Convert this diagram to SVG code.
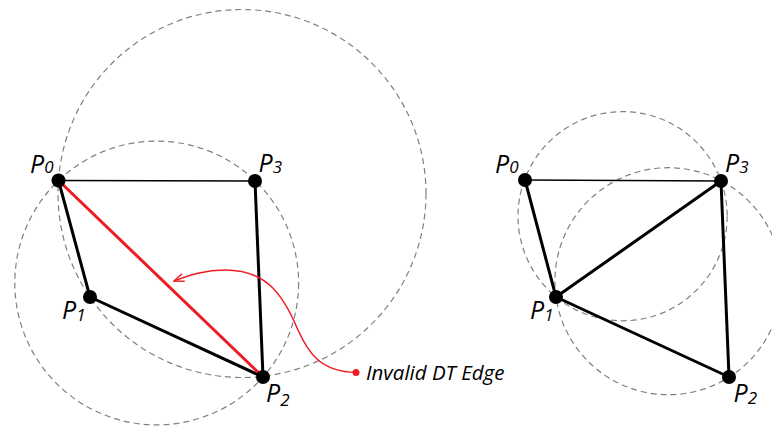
<svg xmlns="http://www.w3.org/2000/svg" width="772" height="426" viewBox="0 0 772 426">
  <style>
    .circ { fill: none; stroke: #808080; stroke-width: 1.2; stroke-dasharray: 6 4; }
    .thin { stroke: #000; stroke-width: 1.6; fill: none; }
    .thick { stroke: #000; stroke-width: 3; fill: none; stroke-linecap: round; }
    .red { stroke: #ed1c24; stroke-width: 3; fill: none; }
    .dot { fill: #000; }
    .lbl { font-family: "Open Sans", "Liberation Sans", sans-serif; font-style: italic; font-size: 25px; fill: #000; }
    .sub { font-size: 17px; }
    .note { font-family: "Open Sans", "Liberation Sans", sans-serif; font-style: italic; font-size: 20.5px; fill: #000; }
  </style>
  <defs>
    <marker id="arr" viewBox="0 0 12 10" refX="11" refY="5" markerWidth="12" markerHeight="10" markerUnits="userSpaceOnUse" orient="auto">
      <path d="M1,1 L11,5 L1,9" fill="none" stroke="#ed1c24" stroke-width="1.5" stroke-linejoin="miter"/>
    </marker>
  </defs>

  <g id="circles">
    <circle class="circ" cx="242" cy="193.5" r="184"/>
    <circle class="circ" cx="156.7" cy="283" r="141.9"/>
    <circle class="circ" cx="622.6" cy="216.2" r="104.6"/>
    <circle class="circ" cx="668.4" cy="281.2" r="113.5"/>
  </g>

  <g id="connectors">
    <line class="thin" x1="58.5" y1="180.5" x2="255" y2="181"/>
    <line class="thick" x1="58.5" y1="180.5" x2="90" y2="297"/>
    <line class="thick" x1="90" y1="297" x2="263" y2="377"/>
    <line class="thick" x1="255" y1="181" x2="263" y2="377"/>
    <line class="red" x1="58.5" y1="180.5" x2="263" y2="377"/>

    <line class="thin" x1="525" y1="180" x2="721" y2="181"/>
    <line class="thick" x1="525" y1="180" x2="556" y2="297"/>
    <line class="thick" x1="556" y1="297" x2="721" y2="181"/>
    <line class="thick" x1="556" y1="297" x2="729" y2="377"/>
    <line class="thick" x1="721" y1="181" x2="729" y2="377"/>

    <path d="M356,372.5 C320,372 308,352 298,330 C282,292 265,270 225,270 C205,270 190,275 174,281" fill="none" stroke="#ed1c24" stroke-width="1.5" marker-end="url(#arr)"/>
    <circle cx="356" cy="372.5" r="3.5" fill="#ed1c24"/>
  </g>

  <g id="L-P0"><circle class="dot" cx="58.5" cy="180.5" r="7"/><text class="lbl" x="30" y="172.5">P<tspan class="sub" dy="0.5">0</tspan></text></g>
  <g id="L-P3"><circle class="dot" cx="255" cy="181" r="7"/><text class="lbl" x="258.5" y="172">P<tspan class="sub" dy="1">3</tspan></text></g>
  <g id="L-P1"><circle class="dot" cx="90" cy="297" r="7"/><text class="lbl" x="62" y="318.5">P<tspan class="sub" dy="2">1</tspan></text></g>
  <g id="L-P2"><circle class="dot" cx="263" cy="377" r="7"/><text class="lbl" x="266" y="401.5">P<tspan class="sub" dy="4">2</tspan></text></g>

  <g id="R-P0"><circle class="dot" cx="525" cy="180" r="7"/><text class="lbl" x="495" y="172.5">P<tspan class="sub" dy="0.5">0</tspan></text></g>
  <g id="R-P3"><circle class="dot" cx="721" cy="181" r="7"/><text class="lbl" x="725" y="172">P<tspan class="sub" dy="1">3</tspan></text></g>
  <g id="R-P1"><circle class="dot" cx="556" cy="297" r="7"/><text class="lbl" x="530" y="318.5">P<tspan class="sub" dy="2">1</tspan></text></g>
  <g id="R-P2"><circle class="dot" cx="729" cy="377" r="7"/><text class="lbl" x="733.5" y="401.5">P<tspan class="sub" dy="2">2</tspan></text></g>

  <g id="label-invalid"><text class="note" x="366" y="380">Invalid DT Edge</text></g>
</svg>
